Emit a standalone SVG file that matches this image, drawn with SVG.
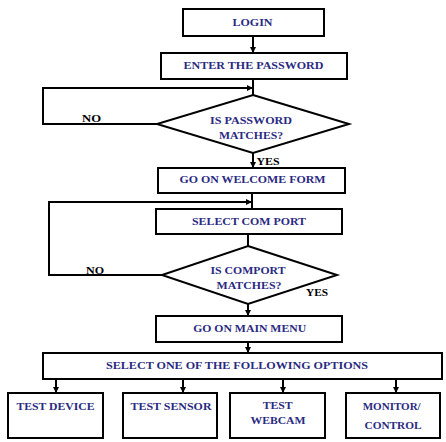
<svg xmlns="http://www.w3.org/2000/svg" width="446" height="442" viewBox="0 0 446 442">
<defs>
<marker id="ah" markerWidth="6" markerHeight="6" refX="5" refY="3" orient="auto" markerUnits="userSpaceOnUse">
<path d="M0,0 L6,3 L0,6 Z" fill="#000"/>
</marker>
<style>
.box{fill:#fff;stroke:#000;stroke-width:2}
.t{font-family:"Liberation Serif","Times New Roman",serif;font-weight:bold;font-size:10px;fill:#2a2a82;text-anchor:middle}
.l{font-family:"Liberation Serif","Times New Roman",serif;font-weight:bold;font-size:10px;fill:#000;text-anchor:middle}
.c{fill:none;stroke:#000;stroke-width:2}
</style>
</defs>
<rect width="446" height="442" fill="#fff"/>
<g id="connectors">
<path class="c" d="M253,36 V52" marker-end="url(#ah)"/>
<path class="c" d="M253,79 V95"/>
<path class="c" d="M157,124 H43 V88 H252" marker-end="url(#ah)"/>
<path class="c" d="M253,153 V167" marker-end="url(#ah)"/>
<path class="c" d="M252,193 V209"/>
<path class="c" d="M162,275 H49 V202 H251" marker-end="url(#ah)"/>
<path class="c" d="M248,234 V246"/>
<path class="c" d="M248,304 V315" marker-end="url(#ah)"/>
<path class="c" d="M248,342 V352" marker-end="url(#ah)"/>
<path class="c" d="M56,379 V392" marker-end="url(#ah)"/>
<path class="c" d="M183,379 V392" marker-end="url(#ah)"/>
<path class="c" d="M283,379 V392" marker-end="url(#ah)"/>
<path class="c" d="M396,379 V392" marker-end="url(#ah)"/>
<text class="l" x="91.5" y="121.8" textLength="19" lengthAdjust="spacingAndGlyphs">NO</text>
<text class="l" x="268" y="165.2" textLength="23" lengthAdjust="spacingAndGlyphs">YES</text>
<text class="l" x="95" y="273.5" textLength="18" lengthAdjust="spacingAndGlyphs">NO</text>
<text class="l" x="317" y="296.2" textLength="22" lengthAdjust="spacingAndGlyphs">YES</text>
</g>
<g id="login">
<rect class="box" x="183" y="9" width="141" height="27"/>
<text class="t" x="252.5" y="25.8" textLength="40" lengthAdjust="spacingAndGlyphs">LOGIN</text>
</g>
<g id="enter-password">
<rect class="box" x="161" y="53" width="186" height="26"/>
<text class="t" x="253.5" y="68.5" textLength="140" lengthAdjust="spacingAndGlyphs">ENTER THE PASSWORD</text>
</g>
<g id="password-matches">
<polygon class="box" points="253,95 349,124 253,153 157,124"/>
<text class="t" x="251" y="124.2" textLength="82" lengthAdjust="spacingAndGlyphs">IS PASSWORD</text>
<text class="t" x="251" y="138.5" textLength="64" lengthAdjust="spacingAndGlyphs">MATCHES?</text>
</g>
<g id="welcome-form">
<rect class="box" x="158" y="168" width="187" height="25"/>
<text class="t" x="252.5" y="182.8" textLength="146" lengthAdjust="spacingAndGlyphs">GO ON WELCOME FORM</text>
</g>
<g id="select-com-port">
<rect class="box" x="156" y="209" width="186" height="25"/>
<text class="t" x="249" y="225.2" textLength="114" lengthAdjust="spacingAndGlyphs">SELECT COM PORT</text>
</g>
<g id="comport-matches">
<polygon class="box" points="248,246 337,275 248,304 162,275"/>
<text class="t" x="248" y="274.2" textLength="75" lengthAdjust="spacingAndGlyphs">IS COMPORT</text>
<text class="t" x="249" y="288.5" textLength="65" lengthAdjust="spacingAndGlyphs">MATCHES?</text>
</g>
<g id="main-menu">
<rect class="box" x="156" y="316" width="186" height="26"/>
<text class="t" x="249.7" y="331.8" textLength="113" lengthAdjust="spacingAndGlyphs">GO ON MAIN MENU</text>
</g>
<g id="select-option">
<rect class="box" x="43" y="353" width="399" height="26"/>
<text class="t" x="237" y="368.5" textLength="262" lengthAdjust="spacingAndGlyphs">SELECT ONE OF THE FOLLOWING OPTIONS</text>
</g>
<g id="test-device">
<rect class="box" x="8" y="393" width="95" height="45"/>
<text class="t" x="55.5" y="410.2" textLength="78" lengthAdjust="spacingAndGlyphs">TEST DEVICE</text>
</g>
<g id="test-sensor">
<rect class="box" x="123" y="393" width="94" height="45"/>
<text class="t" x="171" y="410.2" textLength="81" lengthAdjust="spacingAndGlyphs">TEST SENSOR</text>
</g>
<g id="test-webcam">
<rect class="box" x="230" y="393" width="95" height="45"/>
<text class="t" x="277.7" y="409.2" textLength="30" lengthAdjust="spacingAndGlyphs">TEST</text>
<text class="t" x="278" y="424.2" textLength="55" lengthAdjust="spacingAndGlyphs">WEBCAM</text>
</g>
<g id="monitor-control">
<rect class="box" x="346" y="393" width="94" height="45"/>
<text class="t" x="391.7" y="409.5" textLength="58" lengthAdjust="spacingAndGlyphs">MONITOR/</text>
<text class="t" x="393" y="428.5" textLength="57" lengthAdjust="spacingAndGlyphs">CONTROL</text>
</g>
</svg>
